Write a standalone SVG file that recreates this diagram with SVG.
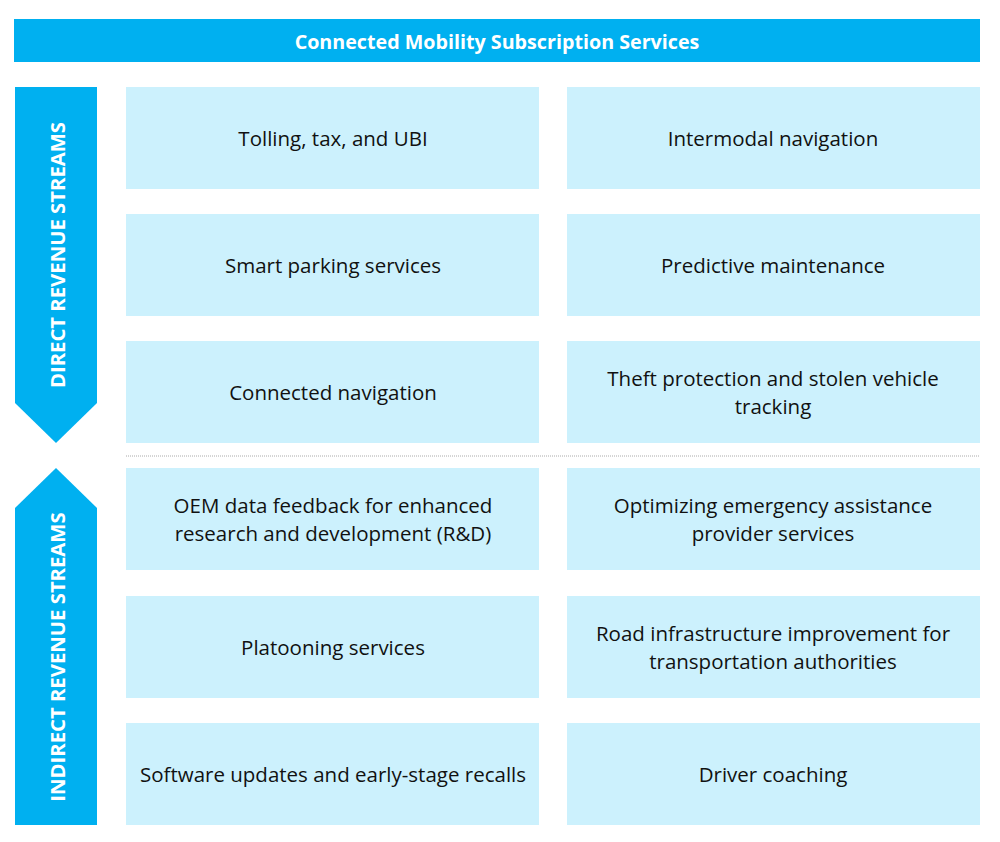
<svg xmlns="http://www.w3.org/2000/svg" width="1000" height="842" viewBox="0 0 1000 842">
<style>
.bar{fill:#00B0F0}
.box{fill:#CCF1FD}
.t{font-family:"Open Sans","Noto Sans",sans-serif;font-size:20.5px;fill:#111;text-anchor:middle;dominant-baseline:central}
.w{font-family:"Open Sans","Noto Sans",sans-serif;font-weight:bold;fill:#fff;text-anchor:middle;dominant-baseline:central}
</style>
<rect width="1000" height="842" fill="#fff"/>
<g id="title">
<rect class="bar" x="14" y="19" width="966" height="43"/>
<text class="w" x="497" y="41" font-size="19.7">Connected Mobility Subscription Services</text>
</g>
<g id="direct">
<polygon class="bar" points="15,87 97,87 97,403 56,443 15,403"/>
<text class="w" font-size="20.3" transform="translate(57,255) rotate(-90)">DIRECT REVENUE STREAMS</text>
</g>
<g id="indirect">
<polygon class="bar" points="56,468 97,508 97,825 15,825 15,508"/>
<text class="w" font-size="20.3" transform="translate(57,657) rotate(-90)">INDIRECT REVENUE STREAMS</text>
</g>
<g id="connectors">
<line x1="126" y1="456" x2="980" y2="456" stroke="#AAAAAA" stroke-width="1" stroke-dasharray="1,1"/>
</g>
<g id="n1"><rect class="box" x="126" y="87" width="413" height="102"/><text class="t" x="333" y="138">Tolling, tax, and UBI</text></g>
<g id="n2"><rect class="box" x="567" y="87" width="413" height="102"/><text class="t" x="773" y="138">Intermodal navigation</text></g>
<g id="n3"><rect class="box" x="126" y="214" width="413" height="102"/><text class="t" x="333" y="265">Smart parking services</text></g>
<g id="n4"><rect class="box" x="567" y="214" width="413" height="102"/><text class="t" x="773" y="265">Predictive maintenance</text></g>
<g id="n5"><rect class="box" x="126" y="341" width="413" height="102"/><text class="t" x="333" y="392">Connected navigation</text></g>
<g id="n6"><rect class="box" x="567" y="341" width="413" height="102"/><text class="t" x="773" y="378">Theft protection and stolen vehicle</text><text class="t" x="773" y="406">tracking</text></g>
<g id="n7"><rect class="box" x="126" y="468" width="413" height="102"/><text class="t" x="333" y="505">OEM data feedback for enhanced</text><text class="t" x="333" y="533">research and development (R&amp;D)</text></g>
<g id="n8"><rect class="box" x="567" y="468" width="413" height="102"/><text class="t" x="773" y="505">Optimizing emergency assistance</text><text class="t" x="773" y="533">provider services</text></g>
<g id="n9"><rect class="box" x="126" y="596" width="413" height="102"/><text class="t" x="333" y="647">Platooning services</text></g>
<g id="n10"><rect class="box" x="567" y="596" width="413" height="102"/><text class="t" x="773" y="633">Road infrastructure improvement for</text><text class="t" x="773" y="661">transportation authorities</text></g>
<g id="n11"><rect class="box" x="126" y="723" width="413" height="102"/><text class="t" x="333" y="774">Software updates and early-stage recalls</text></g>
<g id="n12"><rect class="box" x="567" y="723" width="413" height="102"/><text class="t" x="773" y="774">Driver coaching</text></g>
</svg>
